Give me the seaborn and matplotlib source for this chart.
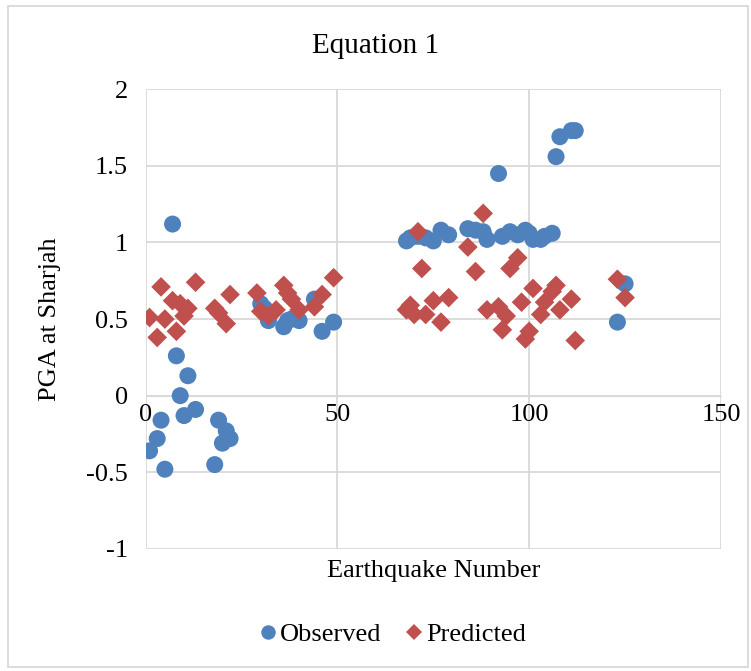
import pandas as pd
import matplotlib.pyplot as plt
import seaborn as sns
from matplotlib.patches import Rectangle

# values
obs_x = [1, 3, 4, 5, 7, 8, 9, 10, 11, 13, 18, 19, 20, 21, 22, 30, 31, 32, 36, 37, 38, 40, 44, 46, 49,
         68, 69, 71, 73, 75, 77, 79, 84, 86, 88, 89, 92, 93, 95, 97, 99, 100, 101, 103, 104, 106,
         107, 108, 111, 112, 123, 125]
obs_y = [-0.36, -0.28, -0.16, -0.48, 1.12, 0.26, 0.00, -0.13, 0.13, -0.09, -0.45, -0.16, -0.31, -0.23, -0.28,
         0.60, 0.57, 0.49, 0.45, 0.49, 0.50, 0.49, 0.63, 0.42, 0.48,
         1.01, 1.03, 1.04, 1.03, 1.01, 1.08, 1.05, 1.09, 1.08, 1.07, 1.02, 1.45, 1.04, 1.07, 1.05, 1.08,
         1.06, 1.02, 1.02, 1.04, 1.06, 1.56, 1.69, 1.73, 1.73, 0.48, 0.73]

pred_x = [1, 3, 4, 5, 7, 8, 9, 10, 11, 13, 18, 19, 21, 22, 29, 30, 32, 34, 36, 37, 38, 40, 44, 46, 49,
          68, 69, 70, 71, 72, 73, 75, 77, 79, 84, 86, 88, 89, 92, 93, 94, 95, 97, 98, 99, 100, 101,
          103, 104, 106, 107, 108, 111, 112, 123, 125]
pred_y = [0.51, 0.38, 0.71, 0.50, 0.62, 0.42, 0.60, 0.52, 0.57, 0.74, 0.57, 0.54, 0.47, 0.66, 0.67, 0.55,
          0.52, 0.56, 0.72, 0.67, 0.63, 0.56, 0.58, 0.66, 0.77,
          0.56, 0.59, 0.53, 1.07, 0.83, 0.53, 0.62, 0.48, 0.64, 0.97, 0.81, 1.19, 0.56, 0.58, 0.43, 0.52,
          0.83, 0.90, 0.61, 0.37, 0.42, 0.70, 0.53, 0.61, 0.68, 0.72, 0.56, 0.63, 0.36, 0.76, 0.64]

data = pd.concat([
    pd.DataFrame({"Earthquake": obs_x, "PGA": obs_y, "Series": "Observed"}),
    pd.DataFrame({"Earthquake": pred_x, "PGA": pred_y, "Series": "Predicted"}),
])

plt.rcParams["font.family"] = ["Liberation Serif", "DejaVu Serif"]
grid_col = "#d9d9d9"

fig = plt.figure(figsize=(7.51, 6.71), dpi=100)
ax = fig.add_axes([0.194, 0.182, 0.766, 0.685])

sns.scatterplot(data=data, x="Earthquake", y="PGA",
                hue="Series", style="Series", size="Series",
                palette={"Observed": "#4f81bd", "Predicted": "#c0504d"},
                markers={"Observed": "o", "Predicted": "D"},
                sizes={"Observed": 150, "Predicted": 100},
                linewidth=0, ax=ax, zorder=3)

ax.set_xlim(0, 150)
ax.set_ylim(-1, 2)
ax.set_xticks([0, 50, 100, 150])
ax.set_yticks([-1, -0.5, 0, 0.5, 1, 1.5, 2])
ax.set_yticklabels(["-1", "-0.5", "0", "0.5", "1", "1.5", "2"])
ax.grid(True, color=grid_col, linewidth=1.3, zorder=0)
ax.set_axisbelow(True)
for side in ["top", "right", "left"]:
    ax.spines[side].set_visible(False)
ax.spines["bottom"].set_position(("data", 0))
ax.spines["bottom"].set_color(grid_col)
ax.tick_params(axis="both", length=0, labelsize=19, colors="black")
ax.tick_params(axis="y", pad=13)
ax.tick_params(axis="x", pad=6)

ax.set_xlabel("Earthquake Number", fontsize=19, labelpad=0)
ax.xaxis.set_label_coords(0.5, -0.025, transform=ax.transAxes)
ax.xaxis.label.set_verticalalignment("top")
ax.set_ylabel("PGA at Sharjah", fontsize=19, labelpad=18)

fig.text(0.5, 0.932, "Equation 1", ha="center", va="center", fontsize=21)

ax.legend(loc="center", bbox_to_anchor=(0.522, 0.055), bbox_transform=fig.transFigure,
          ncol=2, frameon=False, fontsize=19, title=None, markerscale=0.85,
          handlelength=0.7, handletextpad=0.1, columnspacing=0.9)

fig.patches.append(Rectangle((0.011, 0.006), 0.985, 0.985, transform=fig.transFigure,
                             fill=False, edgecolor=grid_col, linewidth=1.3))

plt.savefig("out.png", dpi=100)
